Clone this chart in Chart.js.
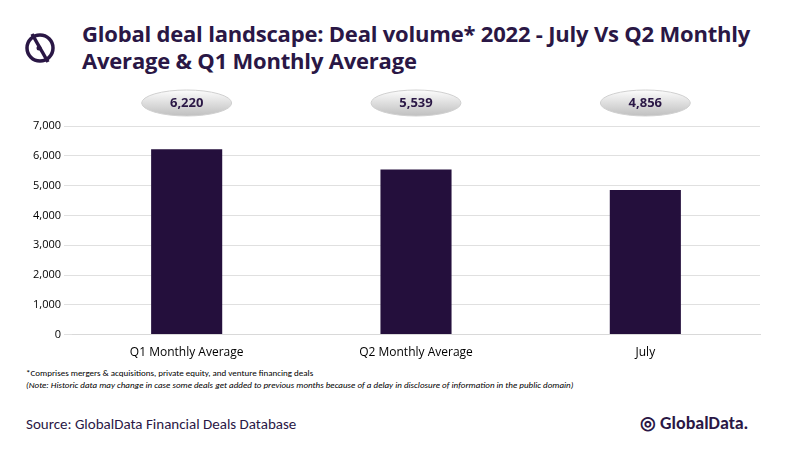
<!DOCTYPE html>
<html><head><meta charset="utf-8">
<script src="https://cdn.jsdelivr.net/npm/chart.js@4"></script>
<style>
body{margin:0;width:800px;height:450px;background:#fff;font-family:Calibri,"Liberation Sans",Arial,sans-serif;position:relative;overflow:hidden}
#title{position:absolute;left:82px;top:20px;font-size:22px;font-weight:bold;color:#2a1745;line-height:27px;font-family:"Open Sans",sans-serif;letter-spacing:-0.2px}
#logo{position:absolute;left:22px;top:28px}
#box{position:absolute;left:0;top:87px;width:800px;height:276px}
.note{position:absolute;left:26px;font-size:9px;color:#000}
#src{position:absolute;left:26px;top:415px;font-size:15px;color:#2a1745}
#gd{position:absolute;left:640px;top:412px;font-size:18px;color:#2a1745;font-weight:bold}
</style></head><body>
<svg id="logo" width="40" height="40" viewBox="0 0 40 40"><circle cx="18" cy="20" r="13" fill="none" stroke="#2a1745" stroke-width="3.5"/><line x1="10" y1="6" x2="26" y2="34" stroke="#2a1745" stroke-width="3.5"/><circle cx="17" cy="20" r="2.5" fill="#2a1745"/></svg>
<div id="title">Global deal landscape: Deal volume* 2022 - July Vs Q2 Monthly<br>Average &amp; Q1 Monthly Average</div>
<div id="box"><canvas id="c"></canvas></div>
<div class="note" style="top:367px">*Comprises mergers &amp; acquisitions, private equity, and venture financing deals</div>
<div class="note" style="top:379px;font-style:italic">(Note: Historic data may change in case some deals get added to previous months because of a delay in disclosure of information in the public domain)</div>
<div id="src">Source: GlobalData Financial Deals Database</div>
<div id="gd">◎ GlobalData.</div>
<script>
const categories = ['Q1 Monthly Average', 'Q2 Monthly Average', 'July'];
const dealVolume = [6220, 5539, 4856];

const bubbles = {
  id: 'bubbles',
  afterDraw(chart) {
    const c = chart.ctx;
    chart.getDatasetMeta(0).data.forEach((bar, i) => {
      const x = bar.x, y = 16;
      c.save();
      const g = c.createLinearGradient(0, y - 14, 0, y + 14);
      g.addColorStop(0, '#ffffff'); g.addColorStop(1, '#bdbdbd');
      c.beginPath(); c.ellipse(x, y, 45, 13, 0, 0, Math.PI * 2);
      c.fillStyle = g; c.fill();
      c.strokeStyle = '#d0d0d0'; c.lineWidth = 1; c.stroke();
      c.fillStyle = '#2a1745'; c.font = 'bold 13px "Open Sans"';
      c.textAlign = 'center'; c.textBaseline = 'middle';
      c.fillText(dealVolume[i].toLocaleString('en-US'), x, y);
      c.restore();
    });
  }
};

new Chart(document.getElementById('c'), {
  type: 'bar',
  data: {
    labels: categories,
    datasets: [{ data: dealVolume, backgroundColor: '#240f3c', barPercentage: 0.31, categoryPercentage: 1 }]
  },
  options: {
    responsive: true, maintainAspectRatio: false, animation: false,
    layout: { padding: { top: 39, right: 40, left: 30 } },
    plugins: { legend: { display: false }, tooltip: { enabled: false } },
    scales: {
      x: { grid: { display: false }, border: { color: '#d9d9d9' },
           ticks: { color: '#000', font: { size: 12, family: '"Open Sans"' } } },
      y: { min: 0, max: 7000, ticks: { stepSize: 1000, color: '#000', font: { size: 11, family: '"Open Sans"' } },
           grid: { color: '#e0e0e0' }, border: { display: false } }
    }
  },
  plugins: [bubbles]
});
</script>
</body></html>
